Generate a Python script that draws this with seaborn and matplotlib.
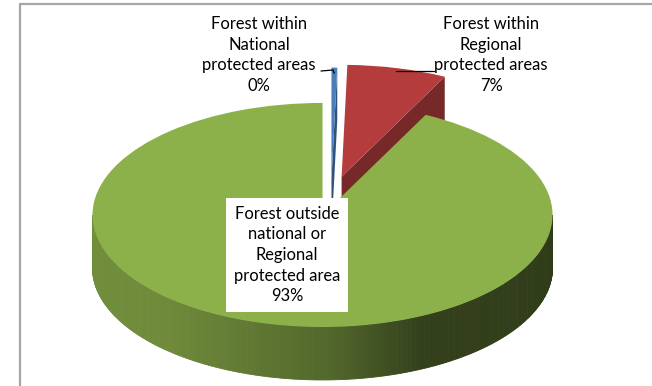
import numpy as np
import matplotlib
matplotlib.use("Agg")
import matplotlib.pyplot as plt
import matplotlib.colors as mcolors
import seaborn as sns
from matplotlib.collections import PolyCollection
from matplotlib.patches import Polygon
from matplotlib.lines import Line2D

# ---- data ----
categories = ["Forest within\nNational\nprotected areas",
              "Forest within\nRegional\nprotected areas",
              "Forest outside\nnational or\nRegional\nprotected area"]
shares = [0.4, 7.0, 92.6]
pct_labels = ["0%", "7%", "93%"]
colors = ["#4A7EBB", "#B43C3C", "#8DB14A"]
explode = [0.16, 0.19, 0.16]

sns.set_theme(style="white")
plt.rcParams['font.family'] = ['Lato', 'DejaVu Sans']

W, H = 652, 386
fig = plt.figure(figsize=(W / 100, H / 100), dpi=100)
ax = fig.add_axes([0, 0, 1, 1])

wedges, _ = ax.pie(shares, explode=explode, colors=colors, startangle=90,
                   counterclock=False, radius=1, wedgeprops=dict(linewidth=0))

# projection: 1 x-unit = A px, 1 y-unit = B px
A, B = 230.0, 112.0
CX, CY = 331.0, 197.5
DEPTH = 53.0 / B
ax.set_aspect('auto')
ax.set_xlim(-CX / A, (W - CX) / A)
ax.set_ylim((CY - H) / B, CY / B)
ax.axis('off')


def P(px, py):
    return ((px - CX) / A, (CY - py) / B)


def side_factor(x):
    return np.interp(x, [-1, -0.7, 0, 0.4, 1], [0.80, 0.78, 0.58, 0.36, 0.34])


def shade(rgb, f):
    return tuple(np.clip(np.array(rgb) * f, 0, 1))


zorders = [(1, 2), (1, 2), (3, 4)]
for w, col, (zs, zt) in zip(wedges, colors, zorders):
    w.set_zorder(zt)
    cx, cy = w.center
    r = w.r
    t1, t2 = w.theta1, w.theta2
    base = mcolors.to_rgb(col)
    th = np.radians(np.linspace(t1, t2, 500))
    m = np.sin(th) < 0
    if m.sum() > 1:
        th = th[m]
        xs = cx + r * np.cos(th)
        ys = cy + r * np.sin(th)
        polys, fcs = [], []
        for i in range(len(th) - 1):
            polys.append([(xs[i], ys[i]), (xs[i + 1], ys[i + 1]),
                          (xs[i + 1], ys[i + 1] - DEPTH), (xs[i], ys[i] - DEPTH)])
            fcs.append(shade(base, side_factor(0.5 * (xs[i] + xs[i + 1]))))
        ax.add_collection(PolyCollection(polys, facecolors=fcs, edgecolors=fcs,
                                         linewidths=0.6, zorder=zs))
    for ang, is_min in ((t1, True), (t2, False)):
        a = np.radians(ang)
        c = np.cos(a)
        vis = c > 1e-6 if is_min else c < -1e-6
        if vis:
            ex, ey = cx + r * np.cos(a), cy + r * np.sin(a)
            face = Polygon([(cx, cy), (ex, ey), (ex, ey - DEPTH), (cx, cy - DEPTH)],
                           closed=True, facecolor=shade(base, 0.66),
                           edgecolor='none', zorder=zs)
            ax.add_patch(face)

# ---- labels ----
fs = 11.9
ls = 1.36
ax.text(*P(259, 55), categories[0] + "\n" + pct_labels[0], ha='center', va='center',
        fontsize=fs, linespacing=ls, color='black', zorder=6)
ax.text(*P(491, 55), categories[1] + "\n" + pct_labels[1], ha='center', va='center',
        fontsize=fs, linespacing=ls, color='black', zorder=6)
ax.text(*P(287, 255), categories[2] + "\n" + pct_labels[2], ha='center', va='center',
        fontsize=fs, linespacing=ls, color='black', zorder=6,
        bbox=dict(facecolor='white', edgecolor='none', boxstyle='square,pad=0.45'))

# leader lines derived from wedge geometry
def wedge_point(w, frac):
    mid = np.radians(0.5 * (w.theta1 + w.theta2))
    return (w.center[0] + frac * w.r * np.cos(mid), w.center[1] + frac * w.r * np.sin(mid))

rx, ry = wedge_point(wedges[1], 0.97)
ax.plot([rx, P(434, 0)[0]], [ry, ry], color='black', lw=0.9, zorder=5)
bx, by = wedge_point(wedges[0], 0.95)
ax.plot([P(321, 71)[0], P(333, 70)[0], bx], [P(321, 71)[1], P(333, 70)[1], by],
        color='black', lw=0.9, zorder=5)

# chart-area border
fig.add_artist(Line2D([20 / W, 20 / W], [0, 1 - 4 / H], transform=fig.transFigure,
                      color='#A6A6A6', lw=1.6))
fig.add_artist(Line2D([20 / W, 1], [1 - 4 / H, 1 - 4 / H], transform=fig.transFigure,
                      color='#A6A6A6', lw=1.6))

fig.savefig("out.png", dpi=100, facecolor='white')
